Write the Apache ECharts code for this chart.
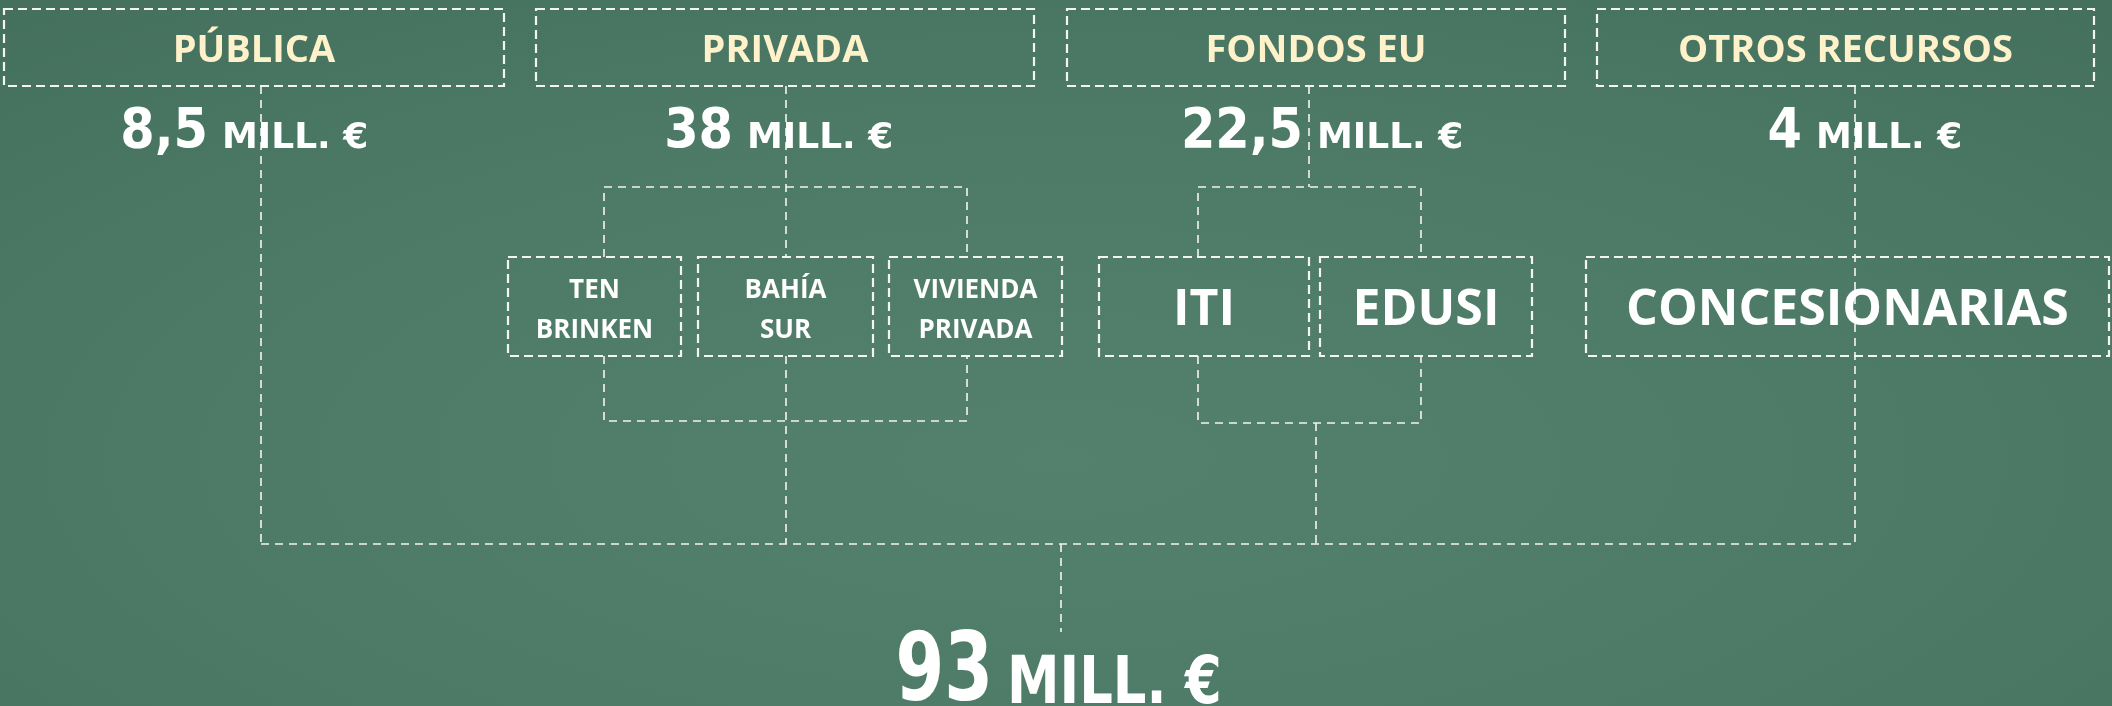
<!DOCTYPE html>
<html>
<head>
<meta charset="utf-8">
<script src="https://cdn.jsdelivr.net/npm/echarts@6/dist/echarts.min.js"></script>
<style>
  html, body { margin: 0; padding: 0; }
  body {
    width: 2112px; height: 706px; overflow: hidden;
    background: radial-gradient(ellipse 80% 90% at 50% 65%, #53816d 0%, #4c7a66 55%, #436f5c 100%);
  }
  #chart { width: 2112px; height: 706px; }
</style>
</head>
<body>
<div id="chart"></div>
<script>
// datos
const groups = ['PÚBLICA', 'PRIVADA', 'FONDOS EU', 'OTROS RECURSOS']
const amounts = [8.5, 38, 22.5, 4]
const total = 93
const unit = 'MILL. €'
const subItems = ['TEN\nBRINKEN', 'BAHÍA\nSUR', 'VIVIENDA\nPRIVADA', 'ITI', 'EDUSI', 'CONCESIONARIAS']

// layout (coordenadas en unidades de los ejes 0..2112 x 0..706)
const topBoxX = [[4, 504], [536, 1034], [1067, 1565], [1597, 2094]]
const topBoxY = [9, 86]
const subBoxX = [[508, 681], [698, 873], [889, 1062], [1099, 1309], [1320, 1532], [1586, 2109]]
const subBoxY = [257, 356]
const subFont = [26, 26, 26, 50, 50, 50]
const amountSplit = [215, 740, 1310, 1809]
const totalSplit = 1000
const links = [
  [[261, 86], [261, 544]],
  [[786, 86], [786, 257]],
  [[604, 257], [604, 187], [967, 187], [967, 257]],
  [[604, 356], [604, 421], [967, 421], [967, 356]],
  [[786, 356], [786, 544]],
  [[1309, 86], [1309, 187]],
  [[1198, 257], [1198, 187], [1421, 187], [1421, 257]],
  [[1198, 356], [1198, 423], [1421, 423], [1421, 356]],
  [[1316, 423], [1316, 544]],
  [[1855, 86], [1855, 544]],
  [[261, 544], [1855, 544]],
  [[1061, 544], [1061, 632]]
]

const fmt = (v) => String(v).replace('.', ',')
const LINE = '#f4f4f4'
const CREAM = '#fff1c9'

const chart = echarts.init(document.getElementById('chart'))

// caja discontinua con texto centrado
const boxItem = (api, x0, x1, y0, y1, text, textStyle) => {
  const p0 = api.coord([x0, y0])
  const p1 = api.coord([x1, y1])
  return {
    type: 'group',
    children: [
      {
        type: 'rect',
        shape: { x: p0[0], y: p0[1], width: p1[0] - p0[0], height: p1[1] - p0[1] },
        style: { fill: 'none', stroke: LINE, lineWidth: 2.2, lineDash: [9, 5] }
      },
      {
        type: 'text',
        x: (p0[0] + p1[0]) / 2,
        y: (p0[1] + p1[1]) / 2 + 4,
        style: Object.assign({
          text,
          align: 'center', textAlign: 'center',
          verticalAlign: 'middle', textVerticalAlign: 'middle',
          fontFamily: '"Open Sans", sans-serif',
          fontWeight: 'bold'
        }, textStyle)
      }
    ]
  }
}

// cifra + unidad
const amountItem = (api, split, yNum, yUnit, value, numSize, unitSize, numScale, unitScale) => {
  const pn = api.coord([split - 7, yNum])
  const pu = api.coord([split + 7, yUnit])
  return {
    type: 'group',
    children: [
      {
        type: 'text', x: pn[0], y: pn[1], scaleX: numScale,
        style: {
          text: value, fill: '#ffffff',
          align: 'right', textAlign: 'right',
          verticalAlign: 'middle', textVerticalAlign: 'middle',
          fontFamily: '"DejaVu Sans Condensed", "DejaVu Sans", sans-serif',
          fontWeight: 'bold', fontSize: numSize
        }
      },
      {
        type: 'text', x: pu[0], y: pu[1], scaleX: unitScale,
        style: {
          text: unit, fill: '#ffffff',
          align: 'left', textAlign: 'left',
          verticalAlign: 'middle', textVerticalAlign: 'middle',
          fontFamily: '"DejaVu Sans", sans-serif',
          fontWeight: 'bold', fontSize: unitSize
        }
      }
    ]
  }
}

const option = {
  animation: false,
  grid: { left: 0, right: 0, top: 0, bottom: 0 },
  xAxis: { type: 'value', min: 0, max: 2112, show: false },
  yAxis: { type: 'value', min: 0, max: 706, inverse: true, show: false },
  series: [
    // conectores
    {
      type: 'custom',
      coordinateSystem: 'cartesian2d',
      clip: false,
      silent: true,
      data: links.map((l, i) => [i]),
      renderItem: (params, api) => ({
        type: 'polyline',
        shape: { points: links[params.dataIndex].map((p) => api.coord(p)) },
        style: { fill: 'none', stroke: LINE, lineWidth: 1.6, lineDash: [8, 6] }
      })
    },
    // cajas superiores
    {
      type: 'custom',
      coordinateSystem: 'cartesian2d',
      clip: false,
      silent: true,
      data: groups.map((g, i) => [i]),
      renderItem: (params, api) => {
        const i = params.dataIndex
        return boxItem(api, topBoxX[i][0], topBoxX[i][1], topBoxY[0], topBoxY[1], groups[i],
          { fill: CREAM, fontSize: 38 })
      }
    },
    // importes por fuente
    {
      type: 'custom',
      coordinateSystem: 'cartesian2d',
      clip: false,
      silent: true,
      data: amounts.map((a, i) => [i]),
      renderItem: (params, api) => {
        const i = params.dataIndex
        return amountItem(api, amountSplit[i], 133, 139, fmt(amounts[i]), 55, 36, 1, 1)
      }
    },
    // sub-cajas
    {
      type: 'custom',
      coordinateSystem: 'cartesian2d',
      clip: false,
      silent: true,
      data: subItems.map((s, i) => [i]),
      renderItem: (params, api) => {
        const i = params.dataIndex
        return boxItem(api, subBoxX[i][0], subBoxX[i][1], subBoxY[0], subBoxY[1], subItems[i],
          { fill: '#ffffff', fontSize: subFont[i], lineHeight: subFont[i] < 30 ? 40 : subFont[i] * 1.2 })
      }
    },
    // total
    {
      type: 'custom',
      coordinateSystem: 'cartesian2d',
      clip: false,
      silent: true,
      data: [[0]],
      renderItem: (params, api) => amountItem(api, totalSplit, 675, 686, fmt(total), 95, 66, 0.82, 0.8)
    }
  ]
}

chart.setOption(option)
</script>
</body>
</html>
